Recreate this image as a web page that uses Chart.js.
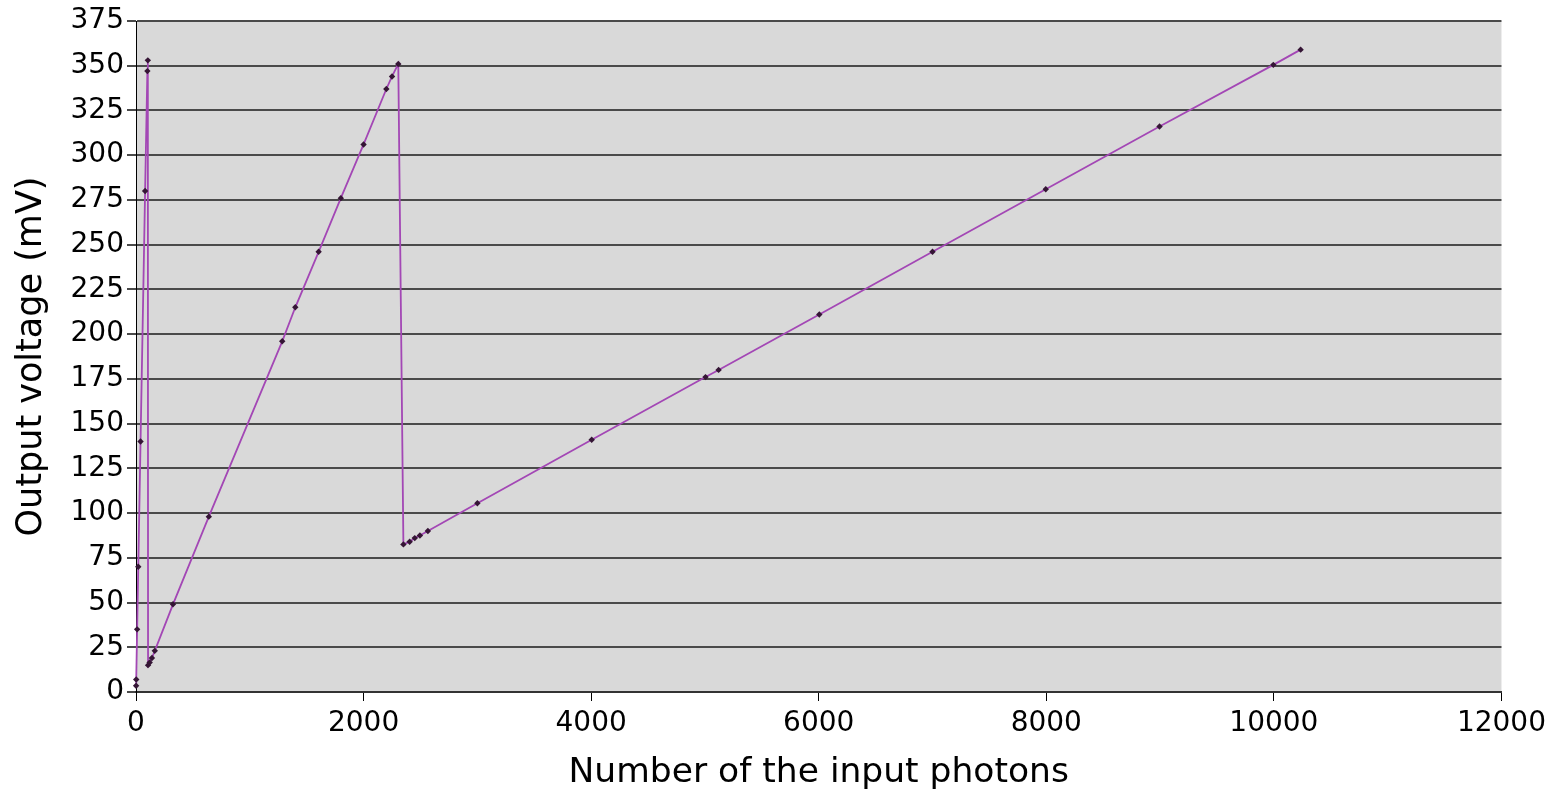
<!DOCTYPE html>
<html>
<head>
<meta charset="utf-8">
<script src="https://cdn.jsdelivr.net/npm/chart.js@4/dist/chart.umd.min.js"></script>
<style>
  html, body { margin: 0; padding: 0; background: #ffffff; }
  #wrap { width: 1552px; height: 795px; }
</style>
</head>
<body>
<div id="wrap"><canvas id="c" width="1552" height="795"></canvas></div>
<script>
// Number of input photons (x) and output voltage in mV (y), in drawing order
const photons = [
  1, 2, 10, 20, 40, 80, 100, 104,
  106, 120, 140, 165,
  325, 640, 1285, 1400, 1605, 1800, 2000, 2200, 2250, 2305,
  2350, 2405, 2450, 2495, 2565, 3000, 4005, 5005, 5120, 6005, 7000, 7995, 8995, 9995, 10235
];
const voltage = [
  3.5, 7, 35, 70, 140, 280, 347, 353,
  15, 16.5, 19, 23,
  49, 98, 196, 215, 246, 276, 306, 337, 344, 351,
  82.5, 84, 86, 87.5, 90, 105.5, 141, 176, 180, 211, 246, 281, 316, 350.5, 359
];
const xTicks = [0, 2000, 4000, 6000, 8000, 10000, 12000];
const yTicks = [0, 25, 50, 75, 100, 125, 150, 175, 200, 225, 250, 275, 300, 325, 350, 375];

const points = photons.map((x, i) => ({ x: x, y: voltage[i] }));

const plotBg = {
  id: 'plotBg',
  beforeDraw(chart) {
    const a = chart.chartArea, ctx = chart.ctx;
    ctx.save();
    ctx.fillStyle = '#d9d9d9';
    ctx.fillRect(a.left, a.top, a.right - a.left, a.bottom - a.top);
    ctx.restore();
  }
};

const FONT = '"DejaVu Sans", Verdana, sans-serif';

new Chart(document.getElementById('c'), {
  type: 'scatter',
  data: {
    datasets: [{
      data: points,
      showLine: true,
      borderColor: '#a347b5',
      borderWidth: 1.8,
      tension: 0,
      pointStyle: 'rectRot',
      pointRadius: 3.2,
      pointBackgroundColor: '#351535',
      pointBorderColor: '#351535',
      pointBorderWidth: 0,
      clip: false
    }]
  },
  options: {
    responsive: false,
    animation: false,
    layout: { padding: { left: 0, right: 50, top: 21, bottom: 0 } },
    plugins: { legend: { display: false }, tooltip: { enabled: false } },
    scales: {
      x: {
        type: 'linear',
        min: 0, max: 12000,
        afterBuildTicks(axis) { axis.ticks = xTicks.map(v => ({ value: v })); },
        afterFit(axis) { axis.height = 103; },
        grid: { drawOnChartArea: false, drawTicks: true, tickLength: 9, color: '#000000', lineWidth: 1 },
        border: { display: true, color: '#333333', width: 2 },
        ticks: { color: '#000000', font: { family: FONT, size: 28 }, padding: 6, maxRotation: 0, autoSkip: false,
                 callback: v => String(v) },
        title: { display: true, text: 'Number of the input photons', color: '#000000',
                 font: { family: FONT, size: 34.5 }, padding: { top: 0, bottom: 1 } }
      },
      y: {
        type: 'linear',
        min: 0, max: 375,
        afterBuildTicks(axis) { axis.ticks = yTicks.map(v => ({ value: v })); },
        afterFit(axis) { axis.width = 136; },
        grid: { drawOnChartArea: true, drawTicks: true, tickLength: 9, color: '#4a4a4a', lineWidth: 2 },
        border: { display: true, color: '#000000', width: 1 },
        ticks: { color: '#000000', font: { family: FONT, size: 28 }, padding: 3, autoSkip: false,
                 callback: v => String(v) },
        title: { display: true, text: 'Output voltage (mV)', color: '#000000',
                 font: { family: FONT, size: 35 }, padding: { top: 11, bottom: 0 } }
      }
    }
  },
  plugins: [plotBg]
});
</script>
</body>
</html>
